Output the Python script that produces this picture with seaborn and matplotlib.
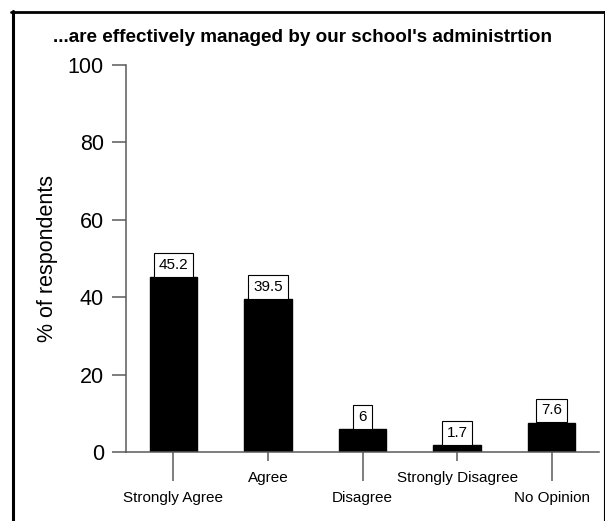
import matplotlib
matplotlib.use("Agg")
import matplotlib.pyplot as plt
import seaborn as sns
import pandas as pd
from matplotlib.lines import Line2D

# datos
categories = ["Strongly Agree", "Agree", "Disagree", "Strongly Disagree", "No Opinion"]
values = [45.2, 39.5, 6, 1.7, 7.6]
value_labels = ["45.2", "39.5", "6", "1.7", "7.6"]
y_ticks = [0, 20, 40, 60, 80, 100]

title = "...are effectively managed by our school's administrtion"
y_label = "% of respondents"

sns.set_style("white")
plt.rcParams["font.family"] = ["Liberation Sans", "DejaVu Sans"]
plt.rcParams["text.color"] = "black"
plt.rcParams["axes.labelcolor"] = "black"
plt.rcParams["xtick.color"] = "black"
plt.rcParams["ytick.color"] = "black"

df = pd.DataFrame({"cat": categories, "val": values})

fig = plt.figure(figsize=(6.05, 5.21), dpi=100)
ax = fig.add_axes([126 / 605, 1 - 452 / 521, (599 - 126) / 605, (452 - 65) / 521])

sns.barplot(data=df, x="cat", y="val", color="black", width=0.5, ax=ax,
            saturation=1, edgecolor="black")

axis_color = "#5a5a5a"
ax.set_xlim(-0.5, 4.5)
ax.set_ylim(0, 100)
ax.set_yticks(y_ticks)
ax.set_yticklabels([str(t) for t in y_ticks], fontsize=15.5)
ax.set_xlabel("")
ax.set_ylabel(y_label, fontsize=15.5, labelpad=7)

for s in ["top", "right"]:
    ax.spines[s].set_visible(False)
ax.spines["left"].set_color(axis_color)
ax.spines["bottom"].set_color(axis_color)
ax.spines["left"].set_linewidth(1.1)
ax.spines["bottom"].set_linewidth(1.1)

ax.tick_params(axis="y", direction="out", length=10, width=1.1, color=axis_color,
               labelcolor="black", pad=6, left=True)
ax.tick_params(axis="x", direction="out", length=21, width=1.1, color=axis_color,
               labelcolor="black", labelsize=11, bottom=True)

# etiquetas alternadas
for i, tick in enumerate(ax.xaxis.get_major_ticks()):
    if i % 2 == 0:
        tick.set_pad(7.0)
    else:
        tick.set_pad(-7.2)
        tick.tick1line.set_markersize(6.5)

# valores en cajas sobre las barras
for i, (v, lab) in enumerate(zip(values, value_labels)):
    ax.annotate(lab, (i, v), xytext=(0, 3.7), textcoords="offset points",
                ha="center", va="bottom", fontsize=11,
                bbox=dict(boxstyle="square,pad=0.32", fc="white", ec="black", lw=0.8))

fig.text(0.5, 1 - 37 / 521, title, ha="center", va="center",
         fontsize=13.6, fontweight="bold")

# marco de la figura
fig.add_artist(Line2D([12.5 / 605, 12.5 / 605], [0, 1 - 11 / 521], color="black",
                      lw=2.2, transform=fig.transFigure))
fig.add_artist(Line2D([11.5 / 605, 603.5 / 605], [1 - 11.5 / 521, 1 - 11.5 / 521],
                      color="black", lw=2, transform=fig.transFigure))
fig.add_artist(Line2D([603.5 / 605, 603.5 / 605], [0, 1 - 11 / 521], color="black",
                      lw=0.8, transform=fig.transFigure))

fig.savefig("out.png", dpi=100)
